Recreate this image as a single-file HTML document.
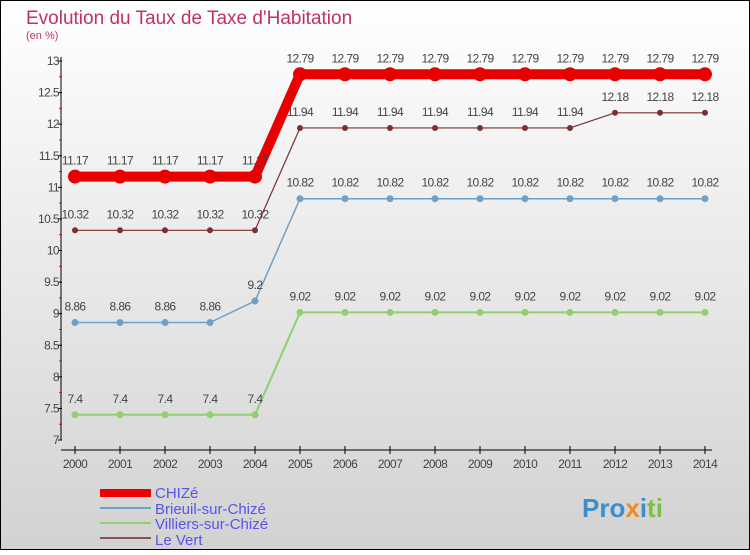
<!DOCTYPE html>
<html><head><meta charset="utf-8"><style>
body{margin:0}
svg text{font-family:"Liberation Sans",sans-serif}
</style></head><body>
<svg width="750" height="550" xmlns="http://www.w3.org/2000/svg">
<defs><linearGradient id="bg" x1="0" y1="0" x2="0" y2="1"><stop offset="0" stop-color="#ffffff"/><stop offset="1" stop-color="#d2d2d2"/></linearGradient></defs>
<rect x="0.5" y="0.5" width="749" height="549" fill="url(#bg)" stroke="#000"/>
<text x="26" y="24" font-size="19" fill="#c0306a">Evolution du Taux de Taxe d'Habitation</text>
<text x="26" y="39" font-size="11" fill="#c0306a">(en %)</text>
<g id="axes"></g><g id="series"></g>
<g>
<rect x="100" y="489" width="51" height="8" fill="#e00"/>
<text x="155" y="498" font-size="15" fill="#5555ee">CHIZé</text>
<rect x="100" y="507" width="51" height="2" fill="#6fa0c8"/>
<text x="155" y="514" font-size="15" fill="#5555ee">Brieuil-sur-Chizé</text>
<rect x="100" y="522" width="51" height="2" fill="#90d070"/>
<text x="155" y="529" font-size="15" fill="#5555ee">Villiers-sur-Chizé</text>
<rect x="100" y="537" width="51" height="2" fill="#8b5050"/>
<text x="155" y="545" font-size="15" fill="#5555ee">Le Vert</text>
</g>
<text x="582" y="517" font-size="26" font-weight="bold"><tspan fill="#3a8fd0">Pro</tspan><tspan fill="#f08a20">x</tspan><tspan fill="#3a8fd0">i</tspan><tspan fill="#80c040">ti</tspan></text>
</svg>
<script>
const years=[2000,2001,2002,2003,2004,2005,2006,2007,2008,2009,2010,2011,2012,2013,2014];
const chize=[11.17,11.17,11.17,11.17,11.17,12.79,12.79,12.79,12.79,12.79,12.79,12.79,12.79,12.79,12.79];
const brieuil=[8.86,8.86,8.86,8.86,9.2,10.82,10.82,10.82,10.82,10.82,10.82,10.82,10.82,10.82,10.82];
const villiers=[7.4,7.4,7.4,7.4,7.4,9.02,9.02,9.02,9.02,9.02,9.02,9.02,9.02,9.02,9.02];
const leVert=[10.32,10.32,10.32,10.32,10.32,11.94,11.94,11.94,11.94,11.94,11.94,11.94,12.18,12.18,12.18];
const yTicks=[7,7.5,8,8.5,9,9.5,10,10.5,11,11.5,12,12.5,13];
const NS="http://www.w3.org/2000/svg";
const x=i=>75+i*45;
const y=v=>61+(13-v)*63.17;
function mk(p,t,a){const e=document.createElementNS(NS,t);for(const k in a)e.setAttribute(k,a[k]);p.appendChild(e);return e;}
const ax=document.getElementById('axes'),sg=document.getElementById('series');
const yl=mk(ax,'line',{x1:61,y1:57,x2:61,y2:440,stroke:'#000'});


const xl=mk(ax,'line',{x1:61,y1:450,x2:712,y2:450,stroke:'#000'});


yTicks.forEach((t,i)=>{const yy=y(t);
 mk(ax,'line',{x1:58,y1:yy,x2:62,y2:yy,stroke:'#000'});
 if(i<yTicks.length-1)mk(ax,'line',{x1:59,y1:y(t+0.25),x2:62,y2:y(t+0.25),stroke:'#f00'});
 const tx=mk(ax,'text',{x:59,y:yy+4,'font-size':12,'text-anchor':'end',fill:'#444','letter-spacing':'-0.6'});
 tx.textContent=String(t);
 
 });
years.forEach((yr,i)=>{mk(ax,'line',{x1:x(i),y1:446,x2:x(i),y2:454,stroke:'#000'});
 const tx=mk(ax,'text',{x:x(i),y:468,'font-size':12,'text-anchor':'middle',fill:'#444','letter-spacing':'-0.6'});
 tx.textContent=yr;
 
 });
function series(vals,color,w,r,name){
 const g=mk(sg,'g',{});
 
 
 mk(g,'polyline',{points:vals.map((v,i)=>x(i)+','+y(v)).join(' '),fill:'none',stroke:color,'stroke-width':w});
 vals.forEach((v,i)=>{const c=mk(g,'circle',{cx:x(i),cy:y(v),r:r,fill:color});
  
  
  const t=mk(g,'text',{x:x(i),y:y(v)-12,'font-size':12,'text-anchor':'middle',fill:'#444','letter-spacing':'-0.6'});
  t.textContent=String(v);
  
  });
}
series(villiers,'#90d070',2,3.5,'villiers');
series(brieuil,'#6fa0c8',1.5,3.5,'brieuil');
series(leVert,'#7a3030',1.2,3,'le-vert');
series(chize,'#e80000',10,7,'chize');
</script>
</body></html>
